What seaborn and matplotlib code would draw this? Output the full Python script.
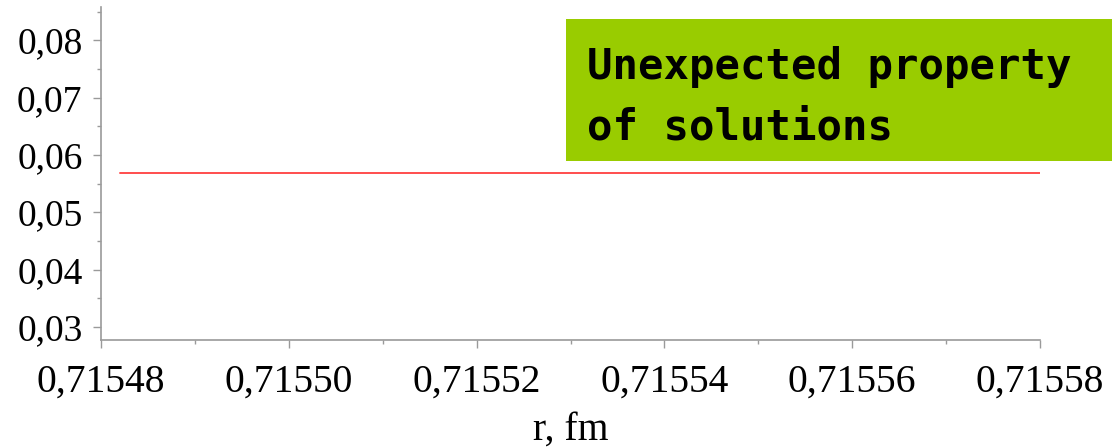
import matplotlib
matplotlib.use("Agg")
import matplotlib.pyplot as plt
import seaborn as sns
import pandas as pd
from matplotlib.ticker import FuncFormatter, MultipleLocator
from matplotlib.patches import Rectangle

# Data
r_values = [0.715482, 0.715580]
f_values = [0.0569, 0.0569]
x_ticks = [0.71548, 0.71550, 0.71552, 0.71554, 0.71556, 0.71558]
y_ticks = [0.03, 0.04, 0.05, 0.06, 0.07, 0.08]
x_label = "r, fm"
box_lines = ["Unexpected property", "of solutions"]

sns.set_style("white")
plt.rcParams["font.family"] = ["Liberation Serif", "DejaVu Serif"]
plt.rcParams["text.color"] = "black"

fig = plt.figure(figsize=(11.12, 4.47), dpi=100)
ax = fig.add_axes([101 / 1112, (447 - 340) / 447, (1040 - 101) / 1112, (340 - 7) / 447])

df = pd.DataFrame({"r": r_values, "f": f_values})
sns.lineplot(data=df, x="r", y="f", ax=ax, color="#ff4d4d", linewidth=1.4)

ax.set_xlim(0.71548, 0.71558)
ax.set_ylim(0.02774, 0.0858)
ax.set_xticks(x_ticks)
ax.set_yticks(y_ticks)
ax.xaxis.set_minor_locator(MultipleLocator(0.00001))
ax.yaxis.set_minor_locator(MultipleLocator(0.005))
ax.xaxis.set_major_formatter(FuncFormatter(lambda v, p: f"{v:.5f}".replace(".", ",")))
ax.yaxis.set_major_formatter(FuncFormatter(lambda v, p: f"{v:.2f}".replace(".", ",")))

for s in ["top", "right"]:
    ax.spines[s].set_visible(False)
for s in ["left", "bottom"]:
    ax.spines[s].set_color("#9a9a9a")
    ax.spines[s].set_linewidth(1.2)

ax.tick_params(axis="both", which="major", direction="out", length=5.8, width=1,
               color="#9a9a9a", labelcolor="black", left=True, bottom=True)
ax.tick_params(axis="both", which="minor", direction="out", length=2.9, width=1,
               color="#9a9a9a", left=True, bottom=True)
ax.tick_params(axis="y", which="major", labelsize=27, pad=7.5)
ax.tick_params(axis="x", which="major", labelsize=28.5, pad=11)
ax.set_xlabel(x_label, fontsize=28.5, labelpad=8, color="black")
ax.set_ylabel("")

# Green annotation box
fig.add_artist(Rectangle((566 / 1112, (447 - 161) / 447), (1112 - 566) / 1112, 142 / 447,
                         transform=fig.transFigure, facecolor="#99cc00",
                         edgecolor="none", zorder=5))
fig.text(587 / 1112, 1 - 79 / 447, box_lines[0], family="DejaVu Sans Mono",
         fontweight="bold", fontsize=30.5, va="baseline", ha="left", zorder=6,
         color="black")
fig.text(587 / 1112, 1 - 139 / 447, box_lines[1], family="DejaVu Sans Mono",
         fontweight="bold", fontsize=30.5, va="baseline", ha="left", zorder=6,
         color="black")

fig.savefig("out.png", dpi=100)
